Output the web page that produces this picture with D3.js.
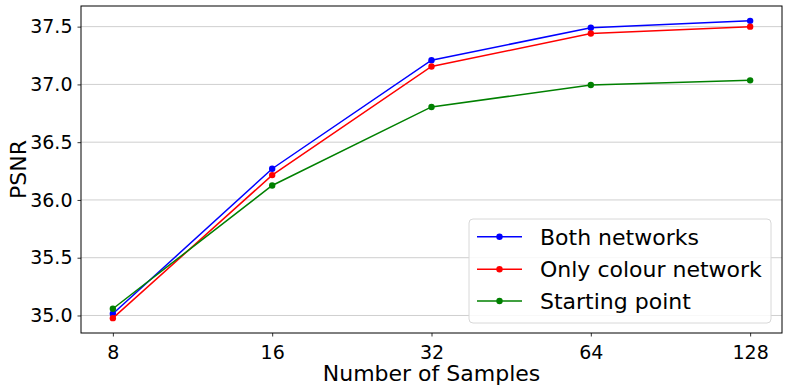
<!DOCTYPE html>
<html><head><meta charset="utf-8">
<script src="https://cdn.jsdelivr.net/npm/d3@7"></script>
<style>body{margin:0;background:#fff}svg{display:block}text{font-family:"DejaVu Sans",sans-serif;fill:#000}</style>
</head><body><svg id="c" width="789" height="391"></svg>
<script>
const categories = ["8","16","32","64","128"];
const bothNetworks = [35.015, 36.27, 37.21, 37.49, 37.55];
const onlyColour = [34.977, 36.215, 37.155, 37.44, 37.50];
const startingPoint = [35.058, 36.125, 36.805, 36.995, 37.035];
const yTicks = [35.0, 35.5, 36.0, 36.5, 37.0, 37.5];
const seriesNames = ["Both networks","Only colour network","Starting point"];
const seriesColors = ["#0000ff","#ff0000","#008000"];

const svg = d3.select("#c");
const L=81, R=782, T=6, B=333;
const all = bothNetworks.concat(onlyColour, startingPoint);
const ymin=d3.min(all), ymax=d3.max(all), pad=(ymax-ymin)*0.05;
const x = d3.scaleLinear().domain([-0.2, categories.length-1+0.2]).range([L,R]);
const y = d3.scaleLinear().domain([ymin-pad, ymax+pad]).range([B,T]);

// grid
svg.append("g").selectAll("line").data(yTicks).join("line")
  .attr("x1",L).attr("x2",R).attr("y1",d=>y(d)).attr("y2",d=>y(d))
  .attr("stroke","#cfcfcf").attr("stroke-width",1);

// axes
const yAxis = svg.append("g").attr("transform",`translate(${L},0)`)
  .call(d3.axisLeft(y).tickValues(yTicks).tickFormat(d3.format(".1f")).tickSize(3.5).tickPadding(5));
const xAxis = svg.append("g").attr("transform",`translate(0,${B})`)
  .call(d3.axisBottom(x).tickValues(d3.range(categories.length)).tickFormat(i=>categories[i]).tickSize(3.5).tickPadding(4));
[yAxis,xAxis].forEach(a=>{a.select(".domain").remove();a.selectAll("text").style("font-size","19px").style("font-family","DejaVu Sans");a.selectAll("line").attr("stroke","#000").attr("stroke-width",0.8);});
xAxis.selectAll("text").attr("dy","0.95em");

// frame
svg.append("rect").attr("x",L).attr("y",T).attr("width",R-L).attr("height",B-T)
  .attr("fill","none").attr("stroke","#000").attr("stroke-width",1);

// series
const data=[bothNetworks,onlyColour,startingPoint];
const line=d3.line().x((d,i)=>x(i)).y(d=>y(d));
data.forEach((s,k)=>{
  svg.append("path").datum(s).attr("d",line).attr("fill","none")
    .attr("stroke",seriesColors[k]).attr("stroke-width",1.5);
  svg.append("g").selectAll("circle").data(s).join("circle")
    .attr("cx",(d,i)=>x(i)).attr("cy",d=>y(d)).attr("r",3.2).attr("fill",seriesColors[k]);
});

// labels
svg.append("text").attr("x",(L+R)/2).attr("y",381).attr("text-anchor","middle")
  .style("font-size","22px").text("Number of Samples");
svg.append("text").attr("transform",`translate(26,${(T+B)/2}) rotate(-90)`).attr("text-anchor","middle")
  .style("font-size","22px").text("PSNR");

// legend
const lg=svg.append("g");
lg.append("rect").attr("x",469).attr("y",219).attr("width",302).attr("height",104).attr("rx",4)
  .attr("fill","#fff").attr("fill-opacity",0.85).attr("stroke","#d8d8d8").attr("stroke-width",1);
const rows=[236.7,269.3,301];
seriesNames.forEach((n,k)=>{
  lg.append("line").attr("x1",477).attr("x2",522).attr("y1",rows[k]).attr("y2",rows[k])
    .attr("stroke",seriesColors[k]).attr("stroke-width",1.5);
  lg.append("circle").attr("cx",499.5).attr("cy",rows[k]).attr("r",3.2).attr("fill",seriesColors[k]);
  lg.append("text").attr("x",540).attr("y",rows[k]).attr("dy","0.36em").style("font-size","22px").text(n);
});
</script></body></html>
